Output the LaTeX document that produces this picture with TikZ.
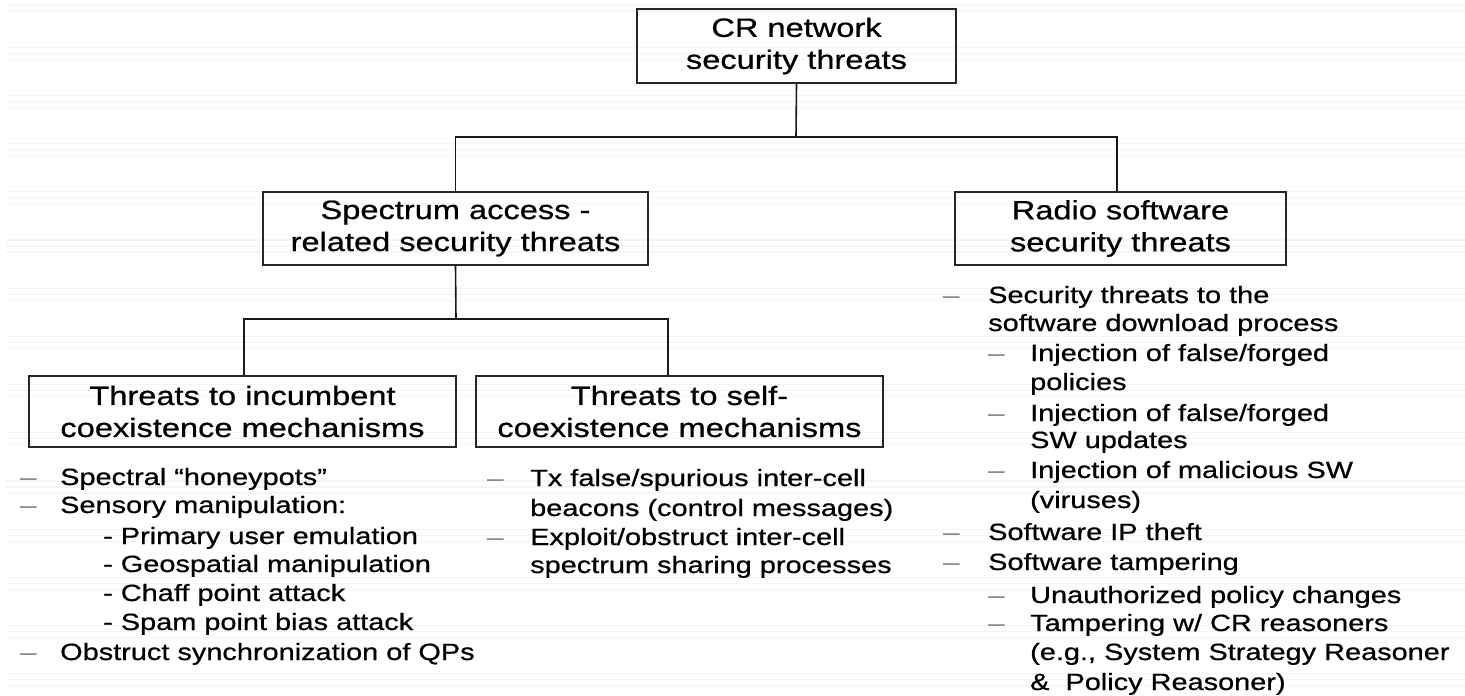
\documentclass[tikz,border=0pt]{standalone}
\usepackage{fontspec}
\setmainfont[FakeStretch=1.23,FakeBold=0.7]{Liberation Sans}
\newcommand\boxfnt{\fontsize{26.5}{32}\selectfont}
\newcommand\listfnt{\fontsize{23.5}{29}\selectfont}
\begin{document}
\begin{tikzpicture}[x=1pt,y=-1pt,
  tbox/.style={draw=black!85,line width=1.8pt,inner sep=0pt,align=center,font=\boxfnt},
  conn/.style={draw=black!90,line width=1.6pt},
  itm/.style={anchor=base west,inner sep=0pt,font=\listfnt},
  bul/.style={anchor=base west,inner sep=0pt,font=\listfnt,text=black!45},
  stripe/.style={draw=black!4,line width=1.2pt}]
\useasboundingbox (0,0) rectangle (1465,696);
\fill[white] (0,0) rectangle (1465,696);
% faint background stripes
\foreach \k in {0,...,14}{
  \foreach \d in {0,6,12}{
    \draw[stripe] (6,{-1+48.2*\k+\d}) -- (1465,{-1+48.2*\k+\d});
  }
}
% boxes
\node[tbox,minimum width=319,minimum height=74] (top) at (796.5,46) {CR network\\security threats};
\node[tbox,minimum width=385,minimum height=73] (spec) at (455.5,228.5) {Spectrum access -\\related security threats};
\node[tbox,minimum width=331,minimum height=73] (radio) at (1120.5,228.5) {Radio software\\security threats};
\node[tbox,minimum width=427,minimum height=71] (inc) at (242.5,411.5) {Threats to incumbent\\coexistence mechanisms};
\node[tbox,minimum width=407,minimum height=71] (self) at (679.5,411.5) {Threats to self-\\coexistence mechanisms};
% connectors
\coordinate (j1) at (796,137);
\coordinate (j2) at (456,319);
\draw[conn] (top.south) -- (j1);
\draw[conn] (spec.north) |- (j1) -| ([xshift=-3.5]radio.north);
\draw[conn] (spec.south) -- (j2);
\draw[conn] ([xshift=1.5]inc.north) |- (j2) -| ([xshift=-11.5]self.north);
% left list
\node[bul] (lb1) at (20,485) {–};
\node[itm] (l1) at (60,485) {Spectral “honeypots”};
\node[bul] (lb2) at (20,513) {–};
\node[itm] (l2) at (60,513) {Sensory manipulation:};
\node[itm] (l3) at (103,544) {- Primary user emulation};
\node[itm] (l4) at (103,572) {- Geospatial manipulation};
\node[itm] (l5) at (103,601) {- Chaff point attack};
\node[itm] (l6) at (103,630) {- Spam point bias attack};
\node[bul] (lb7) at (20,660) {–};
\node[itm] (l7) at (60,660) {Obstruct synchronization of QPs};
% middle list
\node[bul] (mb1) at (487,486) {–};
\node[itm] (m1) at (530,486) {Tx false/spurious inter-cell};
\node[itm] (m2) at (530,516) {beacons (control messages)};
\node[bul] (mb3) at (487,545) {–};
\node[itm] (m3) at (530,545) {Exploit/obstruct inter-cell};
\node[itm] (m4) at (530,573) {spectrum sharing processes};
% right list
\node[bul] (rb1) at (943,303) {–};
\node[itm] (r1) at (988,303) {Security threats to the};
\node[itm] (r2) at (988,331) {software download process};
\node[bul] (rb3) at (988,361) {–};
\node[itm] (r3) at (1030,361) {Injection of false/forged};
\node[itm] (r4) at (1030,390) {policies};
\node[bul] (rb5) at (988,421) {–};
\node[itm] (r5) at (1030,421) {Injection of false/forged};
\node[itm] (r6) at (1030,448) {SW updates};
\node[bul] (rb7) at (988,478) {–};
\node[itm] (r7) at (1030,478) {Injection of malicious SW};
\node[itm] (r8) at (1030,508) {(viruses)};
\node[bul] (rb9) at (943,540) {–};
\node[itm] (r9) at (988,540) {Software IP theft};
\node[bul] (rb10) at (943,570) {–};
\node[itm] (r10) at (988,570) {Software tampering};
\node[bul] (rb11) at (988,603) {–};
\node[itm] (r11) at (1030,603) {Unauthorized policy changes};
\node[bul] (rb12) at (988,631) {–};
\node[itm] (r12) at (1030,631) {Tampering w/ CR reasoners};
\node[itm] (r13) at (1030,660) {(e.g., System Strategy Reasoner};
\node[itm] (r14) at (1030,690) {\&~~Policy Reasoner)};
\end{tikzpicture}
\end{document}
